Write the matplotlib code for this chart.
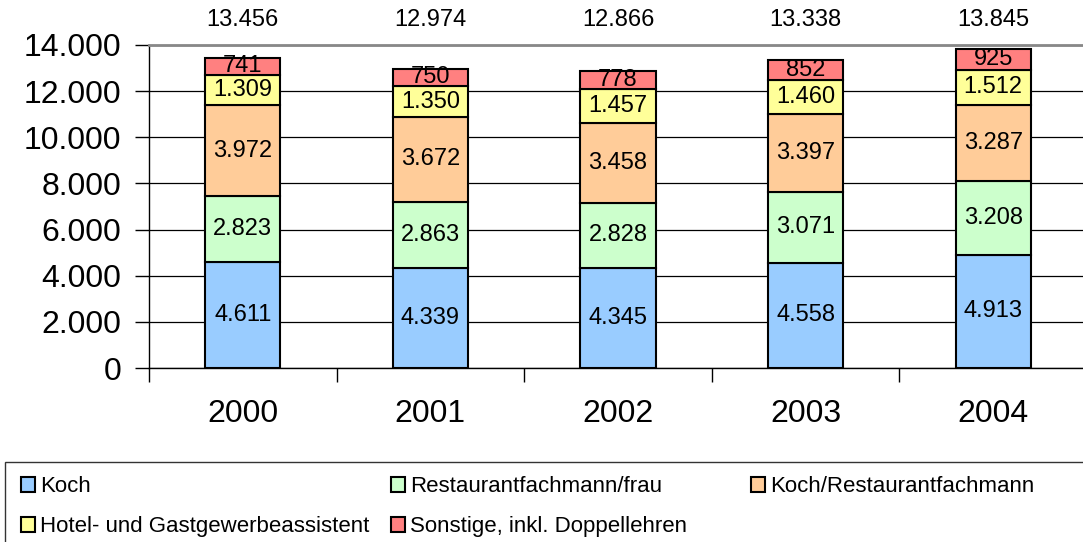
import matplotlib.pyplot as plt
from matplotlib.patches import Rectangle

plt.rcParams['font.family'] = ['Liberation Sans', 'DejaVu Sans']

years = ['2000', '2001', '2002', '2003', '2004']
koch = [4611, 4339, 4345, 4558, 4913]
restaurant = [2823, 2863, 2828, 3071, 3208]
koch_rest = [3972, 3672, 3458, 3397, 3287]
hotel = [1309, 1350, 1457, 1460, 1512]
sonstige = [741, 750, 778, 852, 925]

series = [
    ('Koch', koch, '#99CCFF'),
    ('Restaurantfachmann/frau', restaurant, '#CCFFCC'),
    ('Koch/Restaurantfachmann', koch_rest, '#FFCC99'),
    ('Hotel- und Gastgewerbeassistent', hotel, '#FFFF99'),
    ('Sonstige, inkl. Doppellehren', sonstige, '#FF8080'),
]


def de_fmt(v):
    return f'{int(v):,}'.replace(',', '.')


fig = plt.figure(figsize=(10.83, 5.42), dpi=100)
ax = fig.add_axes([149 / 1083, 1 - 368 / 542, 938 / 1083, 323 / 542])

x = list(range(len(years)))
bottom = [0] * len(years)
handles = {}
for name, vals, color in series:
    bars = ax.bar(x, vals, 0.4, bottom=bottom, color=color, edgecolor='black',
                  linewidth=1.5, zorder=3, label=name)
    handles[name] = bars
    for xi, b, v in zip(x, bottom, vals):
        ax.text(xi, b + v / 2, de_fmt(v), ha='center', va='center',
                fontsize=17, zorder=4)
    bottom = [b + v for b, v in zip(bottom, vals)]

# totals above the plot
for xi, tot in zip(x, bottom):
    ax.text(xi, 1.078, de_fmt(tot), ha='center', va='center', fontsize=17,
            transform=ax.get_xaxis_transform())

ax.set_xlim(-0.5, 4.5)
ax.set_ylim(0, 14000)
ax.set_yticks(range(0, 14001, 2000))
ax.set_yticklabels([de_fmt(v) for v in range(0, 14001, 2000)], fontsize=23)
ax.set_xticks(x)
ax.set_xticklabels(years, fontsize=23)
ax.set_xticks([i - 0.5 for i in range(len(years) + 1)], minor=True)
ax.tick_params(axis='x', which='major', length=0, pad=22)
ax.tick_params(axis='x', which='minor', length=10, width=1, direction='out')
ax.tick_params(axis='y', length=10, width=1, direction='out', pad=10)

ax.yaxis.grid(True, color='black', linewidth=0.9, zorder=0)
ax.set_axisbelow(True)
ax.spines['right'].set_visible(False)
ax.spines['top'].set_color('#888888')
ax.spines['top'].set_linewidth(2)
ax.spines['left'].set_linewidth(1)
ax.spines['bottom'].set_linewidth(1)

# legend frame and entries in three columns
fig.patches.append(Rectangle((5 / 1083, -0.05), 1.1, (542 - 462) / 542 + 0.05,
                             transform=fig.transFigure, fill=False,
                             edgecolor='#333333', linewidth=1))
columns = [
    (21, ['Koch', 'Hotel- und Gastgewerbeassistent']),
    (391, ['Restaurantfachmann/frau', 'Sonstige, inkl. Doppellehren']),
    (751, ['Koch/Restaurantfachmann']),
]
for xpx, names in columns:
    fig.legend([handles[n] for n in names], names,
               loc='upper left', bbox_to_anchor=(xpx / 1083, 1 - 476 / 542),
               frameon=False, fontsize=16, handlelength=0.65,
               handleheight=0.65, handletextpad=0.2, labelspacing=0.85,
               borderpad=0, borderaxespad=0)

fig.savefig('out.png', dpi=100)
